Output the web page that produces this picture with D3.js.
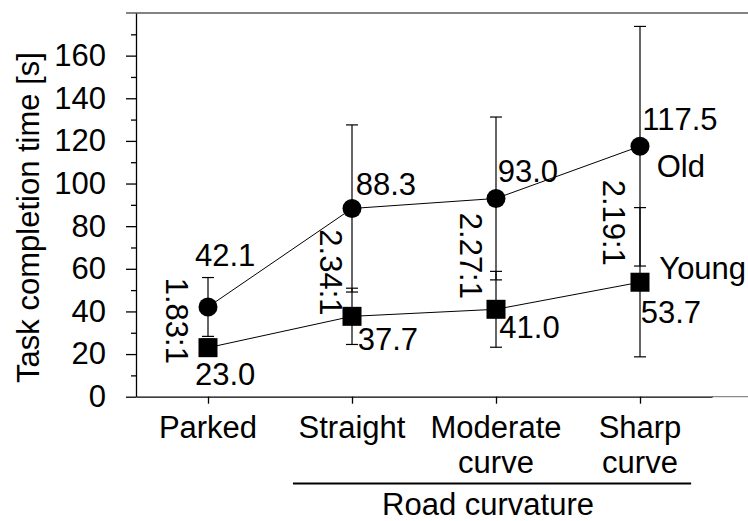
<!DOCTYPE html>
<html>
<head>
<meta charset="utf-8">
<script src="https://cdn.jsdelivr.net/npm/d3@7"></script>
<style>
  html, body { margin: 0; padding: 0; background: #fff; }
  svg { display: block; }
  text { font-family: "Liberation Sans", Arial, Helvetica, sans-serif; fill: #000; }
</style>
</head>
<body>
<svg id="chart" width="748" height="521"></svg>
<script>
// ---------- data ----------
const categories = ["Parked", "Straight", "Moderate curve", "Sharp curve"];
const categoryLines = [["Parked"], ["Straight"], ["Moderate", "curve"], ["Sharp", "curve"]];
const oldMean = [42.1, 88.3, 93.0, 117.5];
const youngMean = [23.0, 37.7, 41.0, 53.7];
const oldErr = [13.8, 39.2, 38.2, 56.2];
const youngErr = [4.0, 13.2, 17.8, 35.0];
const ratioLabels = ["1.83:1", "2.34:1", "2.27:1", "2.19:1"];
const yMajorTicks = [0, 20, 40, 60, 80, 100, 120, 140, 160];
const yMinorTicks = [10, 30, 50, 70, 90, 110, 130, 150, 170];
const seriesNames = ["Old", "Young"];
const yTitle = "Task completion time [s]";
const groupTitle = "Road curvature";

// ---------- layout ----------
const FS = 31;
const svg = d3.select("#chart");
const x = d3.scalePoint().domain(categories).range([136, 712]).padding(0.5);
const y = d3.scaleLinear().domain([0, 180]).range([396.7, 13]);

// frame lines (top, and light extension of bottom)
svg.append("line").attr("x1", 126).attr("x2", 748).attr("y1", y(180)).attr("y2", y(180))
  .attr("stroke", "#5a5a5a").attr("stroke-width", 1.3);
svg.append("line").attr("x1", 712).attr("x2", 748).attr("y1", y(0)).attr("y2", y(0))
  .attr("stroke", "#8a8a8a").attr("stroke-width", 1.3);

// y axis
const yAxisMajor = d3.axisLeft(y).tickValues(yMajorTicks).tickSize(10).tickSizeOuter(0).tickPadding(20);
const gy = svg.append("g").attr("transform", "translate(136,0)").call(yAxisMajor);
gy.selectAll("text").style("font-size", FS + "px").attr("font-family", null);
gy.selectAll("line, path").attr("stroke", "#000").attr("stroke-width", 1.3);
const gyMinor = svg.append("g").attr("transform", "translate(136,0)")
  .call(d3.axisLeft(y).tickValues(yMinorTicks).tickSize(5).tickSizeOuter(0).tickFormat(""));
gyMinor.select("path").remove();
gyMinor.selectAll("line").attr("stroke", "#000").attr("stroke-width", 1.3);

// x axis
const gx = svg.append("g").attr("transform", `translate(0,${y(0)})`)
  .call(d3.axisBottom(x).tickSize(7).tickSizeOuter(0).tickFormat(""));
gx.selectAll("line, path").attr("stroke", "#000").attr("stroke-width", 1.3);

// category labels
categories.forEach((c, i) => {
  const t = svg.append("text").attr("x", x(c)).attr("y", 438)
    .attr("text-anchor", "middle").style("font-size", FS + "px");
  categoryLines[i].forEach((ln, j) => {
    t.append("tspan").attr("x", x(c)).attr("dy", j === 0 ? 0 : 34.5).text(ln);
  });
});

// group bracket + title
const step = x.step();
svg.append("line")
  .attr("x1", x("Straight") - step * 0.41).attr("x2", x("Sharp curve") + step * 0.355)
  .attr("y1", 483.5).attr("y2", 483.5).attr("stroke", "#000").attr("stroke-width", 2);
svg.append("text").attr("x", (x("Straight") + x("Sharp curve")) / 2 - 8).attr("y", 515)
  .attr("text-anchor", "middle").style("font-size", FS + "px").text(groupTitle);

// y title
svg.append("text").attr("transform", `translate(39,${217.5}) rotate(-90)`)
  .attr("text-anchor", "middle").style("font-size", FS + "px").text(yTitle);

// error bars
function errBars(means, errs) {
  const g = svg.append("g").attr("stroke", "#000").attr("stroke-width", 1.2);
  categories.forEach((c, i) => {
    const lo = y(means[i] - errs[i]), hi = y(means[i] + errs[i]), cx = x(c);
    g.append("line").attr("x1", cx).attr("x2", cx).attr("y1", lo).attr("y2", hi);
    g.append("line").attr("x1", cx - 6).attr("x2", cx + 6).attr("y1", lo).attr("y2", lo);
    g.append("line").attr("x1", cx - 6).attr("x2", cx + 6).attr("y1", hi).attr("y2", hi);
  });
}
errBars(oldMean, oldErr);
errBars(youngMean, youngErr);

// lines
const line = d3.line().x((d, i) => x(categories[i])).y(d => y(d));
svg.append("path").attr("d", line(oldMean)).attr("fill", "none").attr("stroke", "#000").attr("stroke-width", 1);
svg.append("path").attr("d", line(youngMean)).attr("fill", "none").attr("stroke", "#000").attr("stroke-width", 1);

// markers
svg.append("g").selectAll("circle").data(oldMean).join("circle")
  .attr("cx", (d, i) => x(categories[i])).attr("cy", d => y(d)).attr("r", 9.5).attr("fill", "#000");
svg.append("g").selectAll("rect").data(youngMean).join("rect")
  .attr("x", (d, i) => x(categories[i]) - 9.5).attr("y", d => y(d) - 9.5)
  .attr("width", 19).attr("height", 19).attr("fill", "#000");

// value labels (label nudges relative to marker)
const oldNudge = [[-13, -40.6], [3.7, -13], [1.7, -16.6], [2.3, -16.7]];
const youngNudge = [[-13, 37.5], [5.7, 33.7], [3.3, 29], [0.7, 40.5]];
oldMean.forEach((v, i) => {
  svg.append("text").attr("x", x(categories[i]) + oldNudge[i][0]).attr("y", y(v) + oldNudge[i][1])
    .style("font-size", FS + "px").text(v.toFixed(1));
});
youngMean.forEach((v, i) => {
  svg.append("text").attr("x", x(categories[i]) + youngNudge[i][0]).attr("y", y(v) + youngNudge[i][1])
    .style("font-size", FS + "px").text(v.toFixed(1));
});

// ratio labels (rotated)
const ratioNudge = [[-31.3, -6.5], [-21, 10], [-24.7, 2], [-26.2, 8.5]];
ratioLabels.forEach((r, i) => {
  const cx = x(categories[i]) + ratioNudge[i][0];
  const cy = y((oldMean[i] + youngMean[i]) / 2) + ratioNudge[i][1];
  svg.append("text").attr("transform", `translate(${cx},${cy}) rotate(90)`)
    .attr("text-anchor", "middle").attr("dy", "0.36em")
    .style("font-size", FS + "px").text(r);
});

// series labels
const last = categories.length - 1;
svg.append("text").attr("x", x(categories[last]) + 16.7).attr("y", y(oldMean[last]) + 30.7)
  .style("font-size", FS + "px").text(seriesNames[0]);
svg.append("text").attr("x", x(categories[last]) + 19.3).attr("y", y(youngMean[last]) - 3)
  .style("font-size", FS + "px").text(seriesNames[1]);
</script>
</body>
</html>
